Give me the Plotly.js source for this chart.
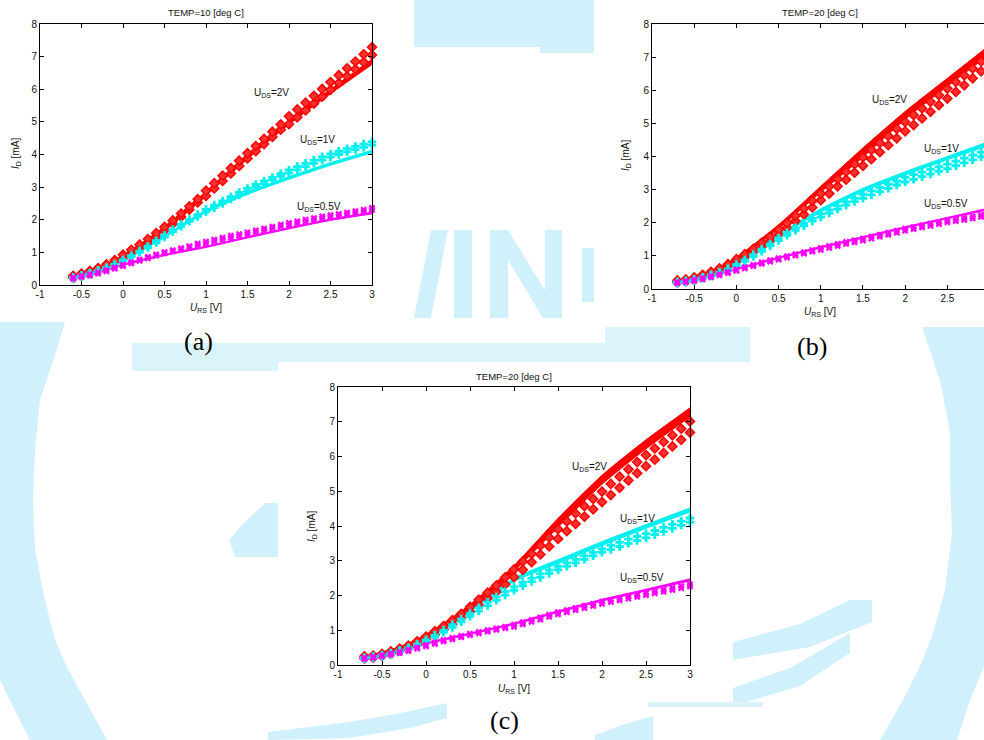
<!DOCTYPE html>
<html>
<head>
<meta charset="utf-8">
<script src="https://cdn.plot.ly/plotly-3.0.1.min.js"></script>
<style>html,body{margin:0;padding:0;background:#fff;}#chart{width:984px;height:740px;}</style>
</head>
<body>
<div id="chart"></div>
<script>
// ---------- DATA ----------
const xTickVals = [-1,-0.5,0,0.5,1,1.5,2,2.5,3];
const xTickText = ["-1","-0.5","0","0.5","1","1.5","2","2.5","3"];
const yTickVals = [0,1,2,3,4,5,6,7,8];

const panelTitles = ["TEMP=10 [deg C]", "TEMP=20 [deg C]", "TEMP=20 [deg C]"];
const seriesLabels = ["U<sub>DS</sub>=2V", "U<sub>DS</sub>=1V", "U<sub>DS</sub>=0.5V"];
const panelLetters = ["(a)", "(b)", "(c)"];

// measured points (stacked markers: lower / upper of each stack)
const xMeasA = [-0.6,-0.5,-0.4,-0.3,-0.2,-0.1,0,0.1,0.2,0.3,0.4,0.5,0.6,0.7,0.8,0.9,1,1.1,1.2,1.3,1.4,1.5,1.6,1.7,1.8,1.9,2,2.1,2.2,2.3,2.4,2.5,2.6,2.7,2.8,2.9,3];
const xMeasBC = [-0.7,-0.6,-0.5,-0.4,-0.3,-0.2,-0.1,0,0.1,0.2,0.3,0.4,0.5,0.6,0.7,0.8,0.9,1,1.1,1.2,1.3,1.4,1.5,1.6,1.7,1.8,1.9,2,2.1,2.2,2.3,2.4,2.5,2.6,2.7,2.8,2.9,3];

// model curves (bundle: lower / upper edge)
const xModelA = [-0.6,-0.3,0,0.5,1,1.5,2,2.5,3];
const xModelBC = [-0.7,-0.3,0,0.5,1,1.5,2,2.5,3];

// Panel (a) TEMP=10
const redMeasLoA = [.22,.29,.37,.46,.57,.70,.83,.98,1.14,1.31,1.49,1.68,1.88,2.09,2.31,2.53,2.73,2.96,3.19,3.42,3.65,3.88,4.10,4.32,4.54,4.76,4.93,5.14,5.35,5.56,5.77,5.98,6.19,6.40,6.61,6.83,7.05];
const redMeasHiA = [.28,.35,.43,.52,.63,.76,.93,1.08,1.24,1.41,1.59,1.78,1.98,2.19,2.41,2.63,2.89,3.12,3.35,3.58,3.81,4.04,4.26,4.48,4.70,4.92,5.17,5.38,5.59,5.80,6.01,6.22,6.43,6.64,6.85,7.07,7.29];
const cyanMeasLoA = [.20,.26,.33,.41,.50,.60,.73,.86,1.0,1.15,1.30,1.47,1.64,1.80,1.95,2.10,2.24,2.37,2.50,2.63,2.76,2.88,3.0,3.11,3.22,3.33,3.43,3.53,3.63,3.73,3.83,3.92,4.0,4.08,4.15,4.22,4.29];
const cyanMeasHiA = [.24,.30,.37,.45,.54,.64,.77,.90,1.04,1.19,1.36,1.53,1.70,1.86,2.01,2.16,2.32,2.45,2.58,2.71,2.84,2.96,3.08,3.19,3.30,3.41,3.53,3.63,3.73,3.83,3.93,4.02,4.10,4.18,4.25,4.32,4.39];
const magMeasLoA = [.19,.24,.29,.35,.42,.50,.58,.66,.74,.82,.90,.97,1.03,1.09,1.15,1.21,1.27,1.33,1.39,1.45,1.50,1.55,1.61,1.67,1.73,1.79,1.84,1.89,1.94,1.99,2.04,2.08,2.12,2.16,2.20,2.25,2.30];
const magMeasHiA = [.23,.28,.33,.39,.46,.54,.62,.70,.78,.86,.94,1.01,1.07,1.13,1.19,1.27,1.33,1.39,1.45,1.51,1.56,1.61,1.67,1.73,1.79,1.85,1.90,1.95,2.00,2.05,2.10,2.14,2.18,2.22,2.26,2.31,2.36];
const redModelLoA = [.24,.47,.82,1.68,2.74,3.86,4.92,5.86,6.76];
const redModelHiA = [.28,.53,.90,1.78,2.86,3.98,5.04,6.00,6.92];
const cyanModelLoA = [.21,.42,.72,1.45,2.22,2.78,3.24,3.67,4.05];
const cyanModelHiA = [.24,.46,.78,1.52,2.30,2.86,3.32,3.75,4.13];
const magModelLoA = [.20,.35,.60,.90,1.15,1.44,1.72,1.98,2.18];
const magModelHiA = [.22,.38,.64,.94,1.19,1.48,1.76,2.02,2.23];

// Panel (b) TEMP=20
const redMeasLoB = [.20,.23,.29,.37,.46,.56,.67,.82,.95,1.11,1.27,1.45,1.65,1.85,2.05,2.25,2.46,2.68,2.88,3.10,3.30,3.51,3.72,3.92,4.13,4.34,4.55,4.76,4.95,5.15,5.35,5.55,5.75,5.95,6.15,6.36,6.57,6.77];
const redMeasHiB = [.26,.29,.35,.43,.52,.62,.75,.90,1.05,1.21,1.39,1.57,1.79,1.99,2.21,2.43,2.66,2.88,3.10,3.32,3.54,3.77,3.98,4.20,4.41,4.62,4.83,5.04,5.25,5.45,5.65,5.85,6.05,6.25,6.45,6.66,6.87,7.07];
const cyanMeasLoB = [.18,.21,.26,.32,.39,.47,.57,.70,.84,.98,1.14,1.30,1.46,1.62,1.77,1.91,2.05,2.17,2.29,2.41,2.53,2.64,2.74,2.84,2.94,3.04,3.14,3.23,3.31,3.39,3.47,3.55,3.63,3.72,3.81,3.90,3.99,4.07];
const cyanMeasHiB = [.22,.25,.30,.36,.43,.51,.61,.74,.88,1.04,1.20,1.36,1.54,1.70,1.85,1.99,2.13,2.27,2.39,2.51,2.63,2.74,2.86,2.96,3.06,3.16,3.26,3.37,3.45,3.53,3.61,3.69,3.77,3.86,3.95,4.04,4.13,4.21];
const magMeasLoB = [.17,.20,.24,.29,.35,.41,.48,.55,.62,.69,.76,.83,.89,.95,1.01,1.07,1.13,1.18,1.24,1.30,1.36,1.41,1.46,1.52,1.58,1.64,1.70,1.76,1.81,1.86,1.91,1.96,2.01,2.05,2.09,2.13,2.18,2.23];
const magMeasHiB = [.21,.24,.28,.33,.39,.45,.52,.59,.66,.73,.80,.87,.93,.99,1.05,1.11,1.17,1.24,1.30,1.36,1.42,1.47,1.52,1.58,1.64,1.70,1.76,1.82,1.87,1.92,1.97,2.02,2.07,2.11,2.15,2.19,2.24,2.29];
const redModelLoB = [.22,.48,.88,1.82,2.92,3.98,5.12,6.12,7.08];
const redModelHiB = [.26,.54,.96,1.94,3.10,4.26,5.36,6.36,7.36];
const cyanModelLoB = [.20,.40,.74,1.58,2.32,2.94,3.44,3.90,4.34];
const cyanModelHiB = [.23,.45,.80,1.66,2.42,3.04,3.54,4.00,4.46];
const magModelLoB = [.19,.37,.58,.92,1.24,1.54,1.84,2.12,2.40];
const magModelHiB = [.21,.40,.62,.96,1.28,1.58,1.88,2.16,2.45];

// Panel (c) TEMP=20
const redMeasLoC = [.19,.21,.26,.33,.41,.50,.60,.74,.87,1.02,1.17,1.35,1.53,1.72,1.92,2.11,2.32,2.53,2.74,2.96,3.18,3.41,3.63,3.85,4.06,4.27,4.48,4.69,4.89,5.10,5.31,5.52,5.72,5.91,6.10,6.29,6.48,6.69];
const redMeasHiC = [.25,.27,.32,.39,.47,.56,.68,.82,.97,1.12,1.29,1.47,1.67,1.88,2.08,2.29,2.52,2.75,2.98,3.20,3.44,3.67,3.91,4.13,4.36,4.57,4.78,4.99,5.21,5.42,5.63,5.84,6.04,6.23,6.42,6.61,6.80,7.01];
const cyanMeasLoC = [.18,.21,.25,.31,.38,.46,.56,.68,.80,.94,1.08,1.24,1.40,1.55,1.71,1.86,2.01,2.15,2.28,2.40,2.52,2.63,2.74,2.84,2.94,3.04,3.14,3.24,3.32,3.41,3.50,3.58,3.66,3.75,3.84,3.93,4.02,4.11];
const cyanMeasHiC = [.22,.25,.29,.35,.42,.50,.60,.72,.86,1.00,1.16,1.32,1.48,1.65,1.81,1.96,2.11,2.25,2.38,2.50,2.62,2.73,2.84,2.94,3.04,3.14,3.24,3.34,3.44,3.53,3.62,3.70,3.78,3.87,3.96,4.05,4.14,4.23];
const magMeasLoC = [.17,.20,.24,.29,.34,.40,.47,.54,.61,.68,.74,.80,.86,.91,.96,1.01,1.06,1.10,1.17,1.24,1.31,1.39,1.46,1.52,1.58,1.64,1.70,1.76,1.81,1.86,1.91,1.96,2.01,2.06,2.11,2.16,2.21,2.26];
const magMeasHiC = [.21,.24,.28,.33,.38,.44,.51,.58,.65,.72,.78,.84,.90,.95,1.00,1.05,1.10,1.16,1.23,1.30,1.37,1.45,1.52,1.58,1.64,1.70,1.76,1.82,1.87,1.92,1.97,2.02,2.07,2.12,2.17,2.22,2.27,2.32];
const redModelLoC = [.21,.46,.80,1.62,2.70,3.96,5.20,6.22,7.14];
const redModelHiC = [.25,.52,.88,1.74,2.86,4.22,5.46,6.48,7.40];
const cyanModelLoC = [.20,.40,.73,1.53,2.40,2.92,3.44,3.93,4.40];
const cyanModelHiC = [.23,.45,.79,1.62,2.50,3.03,3.55,4.04,4.52];
const magModelLoC = [.19,.38,.60,.88,1.17,1.51,1.84,2.13,2.42];
const magModelHiC = [.21,.41,.64,.92,1.21,1.56,1.89,2.18,2.48];

// ---------- BUILD ----------
const W = 984, H = 740;
const px = v => v / W;
const py = v => 1 - v / H;

const RED = '#ff0000', CYAN = '#00f0f0', MAG = '#ff00ff';

const panels = [
  { xa:'x',  ya:'y',  xm:xMeasA,  xl:xModelA,
    red:[redMeasLoA,redMeasHiA,redModelLoA,redModelHiA],
    cyan:[cyanMeasLoA,cyanMeasHiA,cyanModelLoA,cyanModelHiA],
    mag:[magMeasLoA,magMeasHiA,magModelLoA,magModelHiA], clip:false },
  { xa:'x2', ya:'y2', xm:xMeasBC, xl:xModelBC,
    red:[redMeasLoB,redMeasHiB,redModelLoB,redModelHiB],
    cyan:[cyanMeasLoB,cyanMeasHiB,cyanModelLoB,cyanModelHiB],
    mag:[magMeasLoB,magMeasHiB,magModelLoB,magModelHiB], clip:true },
  { xa:'x3', ya:'y3', xm:xMeasBC, xl:xModelBC,
    red:[redMeasLoC,redMeasHiC,redModelLoC,redModelHiC],
    cyan:[cyanMeasLoC,cyanMeasHiC,cyanModelLoC,cyanModelHiC],
    mag:[magMeasLoC,magMeasHiC,magModelLoC,magModelHiC], clip:false }
];

const traces = [];
panels.forEach(p => {
  [[p.red,RED],[p.cyan,CYAN],[p.mag,MAG]].forEach(([s,c]) => {
    traces.push({type:'scatter', mode:'lines', x:p.xl, y:s[2], xaxis:p.xa, yaxis:p.ya,
      line:{color:c, width:1, shape:'spline', smoothing:0.6}, hoverinfo:'skip', showlegend:false});
    traces.push({type:'scatter', mode:'lines', x:p.xl, y:s[3], xaxis:p.xa, yaxis:p.ya,
      line:{color:c, width:1, shape:'spline', smoothing:0.6}, fill:'tonexty', fillcolor:c,
      hoverinfo:'skip', showlegend:false});
  });
  const mk = [
    [p.red, {symbol:'diamond', size:7, color:'#ff3030', line:{color:RED, width:1.5}}],
    [p.cyan, {symbol:'cross', size:7, color:CYAN, line:{width:0}}],
    [p.mag, {symbol:'x', size:6, color:MAG, line:{width:0}}]
  ];
  mk.forEach(([s,m]) => {
    [s[0], s[1]].forEach(yy => {
      traces.push({type:'scatter', mode:'markers', x:p.xm, y:yy, xaxis:p.xa, yaxis:p.ya,
        marker:m, cliponaxis:p.clip, hoverinfo:'skip', showlegend:false});
    });
  });
});

const tickFont = {family:'Liberation Sans, Arial, sans-serif', size:10, color:'#111'};
function xAxis(domain, range, anchor) {
  return {domain:domain, range:range, anchor:anchor, tickvals:xTickVals, ticktext:xTickText,
    showline:true, linecolor:'#000', linewidth:1, mirror:'ticks', ticks:'inside', ticklen:4,
    tickcolor:'#000', tickwidth:1, showgrid:false, zeroline:false, tickfont:tickFont, fixedrange:true};
}
function yAxis(domain, anchor, mirror) {
  return {domain:domain, range:[0,8], anchor:anchor, tickvals:yTickVals,
    showline:true, linecolor:'#000', linewidth:1, mirror:mirror, ticks:'inside', ticklen:4,
    tickcolor:'#000', tickwidth:1, showgrid:false, zeroline:false, tickfont:tickFont, fixedrange:true};
}

// panel boxes in pixels
const boxA = {l:40, r:372, t:24, b:285};
const boxB = {l:652, r:984, t:24, b:289};
const boxC = {l:338, r:690, t:387, b:665};
const dom = b => ({x:[px(b.l), px(b.r)], y:[py(b.b), py(b.t)]});

const dA = dom(boxA), dB = dom(boxB), dC = dom(boxC);

// watermark (background decoration)
const WM = '#d0f0fc', WM2 = '#dbf4fc';
const wmPolys = [
  [[414,0],[594,0],[594,47],[414,47]],
  [[540,40],[594,40],[594,53],[540,53]],
  [[414,318],[431,318],[448,230],[431,230]],
  [[454,230],[472,230],[472,318],[454,318]],
  [[490,230],[508,230],[508,318],[490,318]],
  [[490,230],[508,230],[562,318],[543,318]],
  [[545,230],[562,230],[562,318],[545,318]],
  [[582,248],[594,248],[594,302],[582,302]],
  [[0,322],[65,322],[58,345],[50,370],[40,400],[35,450],[33,500],[35,550],[45,600],[55,640],[67,667],[85,700],[107,740],[30,740],[12,705],[0,680]],
  [[265,503],[278,503],[278,557],[235,557],[229,540],[245,522]],
  [[922,327],[984,327],[984,667],[970,700],[957,740],[880,740],[903,700],[922,662],[933,633],[945,590],[952,533],[950,480],[950,433],[941,385],[930,350]],
  [[733,642],[800,624],[850,600],[872,600],[872,622],[810,647],[733,660]],
  [[733,688],[790,668],[850,633],[850,653],[800,686],[733,706]],
  [[268,732],[350,722],[406,712],[447,703],[447,718],[410,728],[350,738],[268,740]],
  [[595,735],[625,724],[653,716],[653,740],[595,740]]
];
const wmLight = [
  [[132,343],[605,343],[605,327],[750,327],[750,362],[278,362],[278,371],[132,371]],
  [[648,702],[763,702],[763,707],[648,707]]
];
const shapes = [];
function addPoly(poly, col) {
  shapes.push({type:'path', xref:'paper', yref:'paper', layer:'below',
    path: 'M' + poly.map(pt => px(pt[0]).toFixed(5) + ',' + py(pt[1]).toFixed(5)).join('L') + 'Z',
    fillcolor:col, line:{width:0}});
}
wmPolys.forEach(p => addPoly(p, WM));
wmLight.forEach(p => addPoly(p, WM2));

const lblFont = {family:'Liberation Sans, Arial, sans-serif', size:10, color:'#111'};
const ann = [];
function A(text, x, y, opts) {
  ann.push(Object.assign({text:text, xref:'paper', yref:'paper', x:px(x), y:py(y),
    showarrow:false, xanchor:'center', yanchor:'middle', font:lblFont}, opts||{}));
}
// panel titles
const tFont = {family:lblFont.family, size:9.5, color:'#111'};
A(panelTitles[0], 206, 12, {font:tFont});
A(panelTitles[1], 820, 12, {font:tFont});
A(panelTitles[2], 514, 376, {font:tFont});
// axis titles
const yT = '<i>I</i><sub>D</sub> [mA]', xT = '<i>U</i><sub>RS</sub> [V]';
A(yT, 16, 154, {textangle:-90});
A(yT, 626, 156, {textangle:-90});
A(yT, 312, 527, {textangle:-90});
A(xT, 206, 308);
A(xT, 820, 312);
A(xT, 514, 689);
// series labels
A(seriesLabels[0], 252, 93, {xanchor:'left'});
A(seriesLabels[1], 298, 140, {xanchor:'left'});
A(seriesLabels[2], 295, 207, {xanchor:'left'});
A(seriesLabels[0], 870, 100, {xanchor:'left'});
A(seriesLabels[1], 922, 149, {xanchor:'left'});
A(seriesLabels[2], 922, 204, {xanchor:'left'});
A(seriesLabels[0], 570, 467, {xanchor:'left'});
A(seriesLabels[1], 618, 519, {xanchor:'left'});
A(seriesLabels[2], 618, 578, {xanchor:'left'});
// panel letters
const letFont = {family:'Liberation Serif, Times New Roman, serif', size:26, color:'#000'};
A(panelLetters[0], 198, 341, {font:letFont});
A(panelLetters[1], 812, 346, {font:letFont});
A(panelLetters[2], 504, 720, {font:letFont});

const layout = {
  width:W, height:H, margin:{l:0, r:0, t:0, b:0},
  paper_bgcolor:'#ffffff', plot_bgcolor:'rgba(0,0,0,0)',
  showlegend:false,
  xaxis: xAxis(dA.x, [-1,3], 'y'),
  yaxis: yAxis(dA.y, 'x', 'ticks'),
  xaxis2: xAxis(dB.x, [-1,2.934], 'y2'),
  yaxis2: yAxis(dB.y, 'x2', false),
  xaxis3: xAxis(dC.x, [-1,3], 'y3'),
  yaxis3: yAxis(dC.y, 'x3', 'ticks'),
  shapes: shapes,
  annotations: ann
};

Plotly.newPlot('chart', traces, layout, {staticPlot:true, displayModeBar:false});
</script>
</body>
</html>
